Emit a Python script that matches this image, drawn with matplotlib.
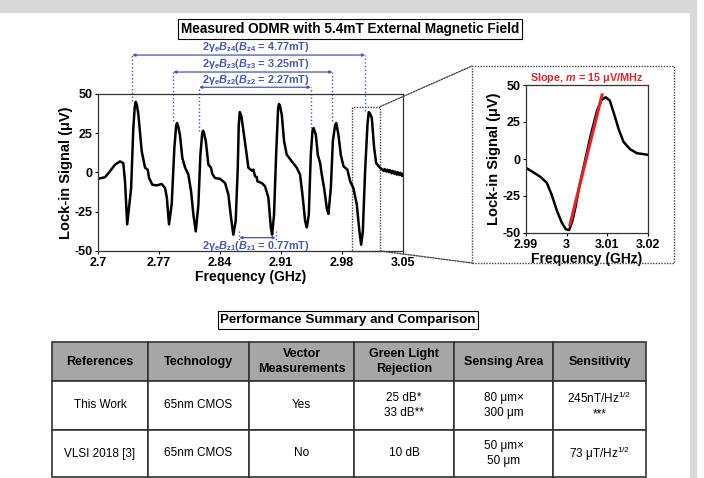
import numpy as np
import matplotlib
matplotlib.use('Agg')
import matplotlib.pyplot as plt
from matplotlib.patches import Rectangle, ConnectionPatch

plt.rcParams['font.family'] = ['Liberation Sans', 'DejaVu Sans']
plt.rcParams['mathtext.fontset'] = 'custom'
plt.rcParams['mathtext.rm'] = 'Liberation Sans'
plt.rcParams['mathtext.it'] = 'Liberation Sans:italic:bold'
plt.rcParams['mathtext.bf'] = 'Liberation Sans:bold'
plt.rcParams['mathtext.default'] = 'regular'
plt.rcParams['axes.unicode_minus'] = False

# ---- measured ODMR sweep (GHz, uV)
freq = [2.700, 2.708, 2.7138, 2.7195, 2.7253, 2.729, 2.731, 2.7335, 2.738, 2.7405,
        2.7422, 2.7433, 2.7446, 2.7463, 2.7502, 2.754, 2.757, 2.7586, 2.7624, 2.7674,
        2.773, 2.777, 2.779, 2.7815, 2.7846, 2.7876, 2.7897, 2.7907, 2.7918, 2.794,
        2.7968, 2.800, 2.8037, 2.8068, 2.8095, 2.8122, 2.8152, 2.8175, 2.8196, 2.8206,
        2.8217, 2.8237, 2.8267, 2.8297, 2.8312, 2.8343, 2.840, 2.8458, 2.8496, 2.8527,
        2.8553, 2.858, 2.8604, 2.8615, 2.8627, 2.8645, 2.8696, 2.8726, 2.8765, 2.8783,
        2.8802, 2.8822, 2.8829, 2.888, 2.8917, 2.8955, 2.8983, 2.8998, 2.902, 2.9044,
        2.9067, 2.9077, 2.9088, 2.9109, 2.9135, 2.9166, 2.9224, 2.9281, 2.9319, 2.935,
        2.9377, 2.9396, 2.9419, 2.9442, 2.9462, 2.9474, 2.950, 2.9522, 2.9549, 2.9568,
        2.9595, 2.9625, 2.9644, 2.9672, 2.9695, 2.9722, 2.9734, 2.9759, 2.9786, 2.9817,
        2.9862, 2.9893, 2.9931, 2.997, 3.000, 3.002, 3.0039, 3.0065, 3.0092, 3.0107,
        3.0122, 3.0142, 3.0169, 3.0192, 3.0238, 3.026, 3.028, 3.029, 3.031, 3.032,
        3.034, 3.035, 3.037, 3.038, 3.040, 3.041, 3.043, 3.044, 3.046, 3.047,
        3.049, 3.050]
signal = [-4, -3, 0.8, 5, 7.1, 6, -5.6, -33, -10, 28,
          42, 45, 43, 37, 13.5, 3, 1.8, -3.5, -7.8, -8.2,
          -7.3, -10, -16, -33, -20, 15.6, 30, 31.5, 30, 24,
          9.2, 3, -1.4, -12, -27, -37.5, -20.5, 11.3, 25, 26.6,
          25, 20, 5, 3, -1, -3.5, -4, -6.7, -14, -29,
          -39.6, -31, 3, 30, 38.5, 36, 15.6, 3, 1.2, 1.8,
          -2.4, -3, -5.6, -6.7, -8.8, -16, -35, -39.6, -27, 11.3,
          41, 43.6, 42.5, 36.8, 20, 11.3, 7.1, 3, -1.4, -16,
          -31, -35, -27, 11.3, 27, 28.3, 24, 11.3, 6, -1.4,
          -10, -22.6, -26.4, -10, 20, 30.5, 31.5, 24, 11.3, 4,
          1.8, -5.6, -10, -20.5, -37.5, -46, -37.5, 0.8, 30.4, 38.5,
          37.5, 34.7, 15.6, 6, 2.9, 2.0, 1.0, 2.2, 0.6, 1.8,
          0.2, 1.5, -0.5, 1.0, -0.8, 0.6, -1.4, 0.2, -1.6, -0.2,
          -2.2, -1.0]

# ---- zoomed resonance near 3 GHz
zoom_freq = [2.990, 2.9918, 2.9935, 2.9951, 2.9963, 2.9976, 2.9988, 2.9998, 3.0006, 3.0014,
             3.0022, 3.003, 3.0046, 3.006, 3.0075, 3.0086, 3.0096, 3.0106, 3.0116, 3.0128,
             3.014, 3.0156, 3.0173, 3.0189, 3.020]
zoom_signal = [-6, -9, -12, -16, -24, -35, -43, -47.5, -48, -42,
               -32, -20, 0, 17, 33, 40, 41.7, 39.5, 31, 20,
               11.5, 6.6, 3.9, 3.3, 2.8]
fit_freq = [3.0008, 3.0087]
fit_signal = [-44.4, 43.3]

# ---- splitting annotations: (left GHz, right GHz, index, field)
splits = [(2.8622, 2.9040, '1', '0.77'),
          (2.8160, 2.9442, '2', '2.27'),
          (2.7864, 2.9690, '3', '3.25'),
          (2.7394, 3.0066, '4', '4.77')]

x_ticks = [2.7, 2.77, 2.84, 2.91, 2.98, 3.05]
x_tick_labels = ['2.7', '2.77', '2.84', '2.91', '2.98', '3.05']
zoom_ticks = [2.99, 3.0, 3.01, 3.02]
zoom_tick_labels = ['2.99', '3', '3.01', '3.02']
y_ticks = [-50, -25, 0, 25, 50]

col_labels = ['References', 'Technology', 'Vector\nMeasurements',
              'Green Light\nRejection', 'Sensing Area', 'Sensitivity']
row_this = ['This Work', '65nm CMOS', 'Yes', '25 dB*\n33 dB**',
            '80 μm×\n300 μm', '245nT/Hz$^{1/2}$\n***']
row_vlsi = ['VLSI 2018 [3]', '65nm CMOS', 'No', '10 dB',
            '50 μm×\n50 μm', '73 μT/Hz$^{1/2}$']

W, H = 704, 478
blue = '#4656b8'
grey_line = '#444444'


def px_axes(fig, l, t, r, b):
    return fig.add_axes([l / W, 1 - b / H, (r - l) / W, (b - t) / H])


def style_axes(ax, xt, xtl):
    ax.set_ylim(-50, 50)
    ax.set_xticks(xt)
    ax.set_xticklabels(xtl)
    ax.set_yticks(y_ticks)
    ax.tick_params(direction='out', length=2.5, width=0.8, pad=1.5, labelsize=9)
    for lbl in ax.get_xticklabels() + ax.get_yticklabels():
        lbl.set_fontweight('bold')
    for sp in ax.spines.values():
        sp.set_linewidth(0.9)
        sp.set_color('#333333')


fig = plt.figure(figsize=(W / 100, H / 100), dpi=100)

# slide frame
fig.patches.append(Rectangle((0, 1 - 12 / H), 690 / W, 12 / H, transform=fig.transFigure,
                             color='#d9d9d9', zorder=0))
fig.patches.append(Rectangle((690 / W, 0), 6 / W, 1, transform=fig.transFigure,
                             color='#d9d9d9', zorder=0))

fig.text(350 / W, 1 - 29 / H, 'Measured ODMR with 5.4mT External Magnetic Field',
         ha='center', va='center', fontsize=9.8, fontweight='bold',
         bbox=dict(boxstyle='square,pad=0.2', fc='white', ec='black', lw=0.8))

# main sweep
ax = px_axes(fig, 98, 94, 403, 251)
ax.plot(freq, signal, color='black', lw=1.8, solid_joinstyle='round')
ax.set_xlim(2.7, 3.05)
style_axes(ax, x_ticks, x_tick_labels)
ax.set_xlabel('Frequency (GHz)', fontsize=10, fontweight='bold', labelpad=1)
ax.set_ylabel('Lock-in Signal (μV)', fontsize=10.5, fontweight='bold', labelpad=1)

arrow_y = {'1': -41.5, '2': 54.3, '3': 64.0, '4': 74.8}
text_y = {'1': -46.5, '2': 58.6, '3': 69.2, '4': 79.9}
line_ends = {'1': ((-37, -43), (-37, -43)), '2': ((26.4, 54.3), (28.3, 54.3)),
             '3': ((32.8, 64.0), (32.8, 64.0)), '4': ((45.5, 74.8), (39.0, 74.8))}
for f1, f2, idx, field in splits:
    ya = arrow_y[idx]
    ax.annotate('', xy=(f2, ya), xytext=(f1, ya), annotation_clip=False,
                arrowprops=dict(arrowstyle='<|-|>', color=blue, lw=0.9,
                                mutation_scale=4, shrinkA=0, shrinkB=0))
    for f, (y0, y1) in zip((f1, f2), line_ends[idx]):
        ax.plot([f, f], [y0, y1], ls=':', color=blue, lw=1.0, clip_on=False)
    ax.text(2.881, text_y[idx],
            r'2$\gamma_e\mathit{B}_{z%s}$($\mathit{B}_{z%s}$ = %smT)' % (idx, idx, field),
            ha='center', va='center', color=blue, fontsize=7.8, fontweight='bold',
            clip_on=False)

# zoom marker on main plot
ax.add_patch(Rectangle((2.991, -50), 0.033, 92, fill=False, ls=(0, (1, 1)),
                       ec=grey_line, lw=1, clip_on=False))
for xa, xb in [((3.024, 42), (472 / W, 1 - 66 / H)), ((3.024, -50), (472 / W, 1 - 263 / H))]:
    con = ConnectionPatch(xyA=xa, xyB=xb, coordsA='data', coordsB='figure fraction',
                          axesA=ax, ls=(0, (1, 1)), color=grey_line, lw=1)
    fig.add_artist(con)

# inset frame
fig.patches.append(Rectangle((472 / W, 1 - 263 / H), 202 / W, 197 / H,
                             transform=fig.transFigure, fill=False,
                             ls=(0, (1, 1)), ec=grey_line, lw=1))

ax2 = px_axes(fig, 526, 85, 648, 233)
ax2.plot(zoom_freq, zoom_signal, color='black', lw=1.8)
ax2.plot(fit_freq, fit_signal, color='#e8202a', lw=2.2)
ax2.set_xlim(2.99, 3.02)
style_axes(ax2, zoom_ticks, zoom_tick_labels)
ax2.set_xlabel('Frequency (GHz)', fontsize=10, fontweight='bold', labelpad=1)
ax2.set_ylabel('Lock-in Signal (μV)', fontsize=10.5, fontweight='bold', labelpad=1)
ax2.set_title(r'Slope, $\mathit{m}$ = 15 μV/MHz', color='#e8202a', fontsize=7.8,
              fontweight='bold', pad=3)

# comparison table
fig.text(348 / W, 1 - 320 / H, 'Performance Summary and Comparison',
         ha='center', va='center', fontsize=9.6, fontweight='bold',
         bbox=dict(boxstyle='square,pad=0.2', fc='white', ec='black', lw=0.8))

ax_t = px_axes(fig, 52, 342, 646, 477)
ax_t.axis('off')
col_w = [96, 101, 105, 100, 99, 93]
tbl = ax_t.table(cellText=[row_this, row_vlsi], colLabels=col_labels,
                 colWidths=col_w, cellLoc='center', bbox=[0, 0, 1, 1])
tbl.auto_set_font_size(False)
tbl.set_fontsize(8.5)
row_h = [39, 49, 47]
for (r, c), cell in tbl.get_celld().items():
    cell.set_height(row_h[r])
    cell.set_edgecolor('#333333')
    cell.set_linewidth(1.2)
    cell.get_text().set_linespacing(1.25)
    if r == 0:
        cell.set_facecolor('#a6a6a6')
        cell.get_text().set_fontweight('bold')
        cell.get_text().set_fontsize(9)

fig.savefig('out.png', dpi=100)
